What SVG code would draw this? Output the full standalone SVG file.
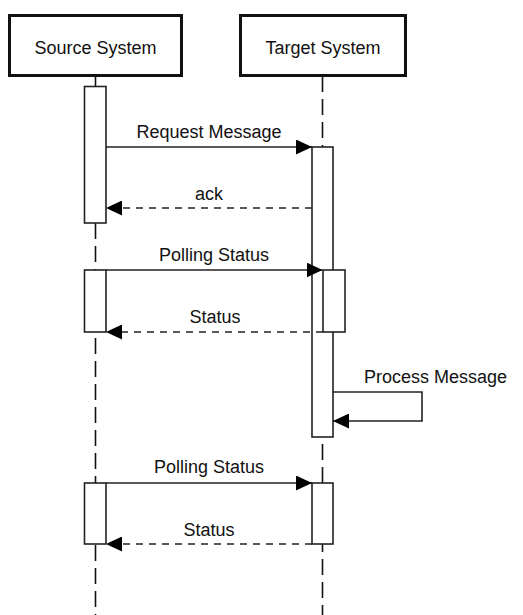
<svg xmlns="http://www.w3.org/2000/svg" width="523" height="615" viewBox="0 0 523 615">
<defs>
<marker id="ah" viewBox="0 0 16 15" refX="16" refY="7.5" markerWidth="16" markerHeight="15" markerUnits="userSpaceOnUse" orient="auto">
<path d="M0,0 L16,7.5 L0,15 Z" fill="#000"/>
</marker>
<style>
.actor{fill:#fff;stroke:#111;stroke-width:3}
.life{fill:none;stroke:#111;stroke-width:1.6;stroke-dasharray:16 7}
.act{fill:#fff;stroke:#222;stroke-width:1.6}
.msg{fill:none;stroke:#222;stroke-width:1.6;marker-end:url(#ah)}
.ret{fill:none;stroke:#222;stroke-width:1.6;stroke-dasharray:7 6;marker-end:url(#ah)}
text{font-family:"Liberation Sans",Arial,sans-serif;font-size:18px;fill:#111;text-anchor:middle}
</style>
</defs>
<rect width="523" height="615" fill="#fff"/>
<g id="lifelines">
<line x1="95.5" y1="76" x2="95.5" y2="86" stroke="#111" stroke-width="1.6"/>
<line class="life" x1="95.5" y1="223" x2="95.5" y2="615"/>
<line class="life" x1="322.5" y1="76" x2="322.5" y2="615"/>
</g>
<g id="source-system">
<rect class="actor" x="9.5" y="15.5" width="172" height="60"/>
<text x="95.5" y="54">Source System</text>
</g>
<g id="target-system">
<rect class="actor" x="240.5" y="15.5" width="165" height="60"/>
<text x="323" y="54">Target System</text>
</g>
<g id="activations">
<rect id="src-act-1" class="act" x="84.5" y="86.5" width="21.5" height="136.5"/>
<rect id="tgt-act-1" class="act" x="312" y="147" width="21" height="290"/>
<rect id="src-act-2" class="act" x="84.5" y="270" width="21.5" height="62"/>
<rect id="tgt-act-2" class="act" x="323" y="270" width="22" height="62"/>
<rect id="src-act-3" class="act" x="84.5" y="483" width="21.5" height="61"/>
<rect id="tgt-act-3" class="act" x="312" y="483" width="21" height="61"/>
</g>
<g id="connectors">
<line class="msg" x1="106" y1="147" x2="312" y2="147"/>
<text x="209" y="138">Request Message</text>
<line class="ret" x1="312" y1="208" x2="106" y2="208"/>
<text x="209" y="200">ack</text>
<line class="msg" x1="106" y1="270" x2="322.5" y2="270"/>
<text x="214" y="260.5">Polling Status</text>
<line class="ret" x1="323" y1="332" x2="106" y2="332"/>
<text x="215" y="322.5">Status</text>
<polyline class="msg" points="333,392 422,392 422,421 333,421"/>
<text x="435.5" y="383">Process Message</text>
<line class="msg" x1="106" y1="483" x2="312" y2="483"/>
<text x="209" y="472.5">Polling Status</text>
<line class="ret" x1="312" y1="544" x2="106" y2="544"/>
<text x="209" y="535.5">Status</text>
</g>
</svg>
